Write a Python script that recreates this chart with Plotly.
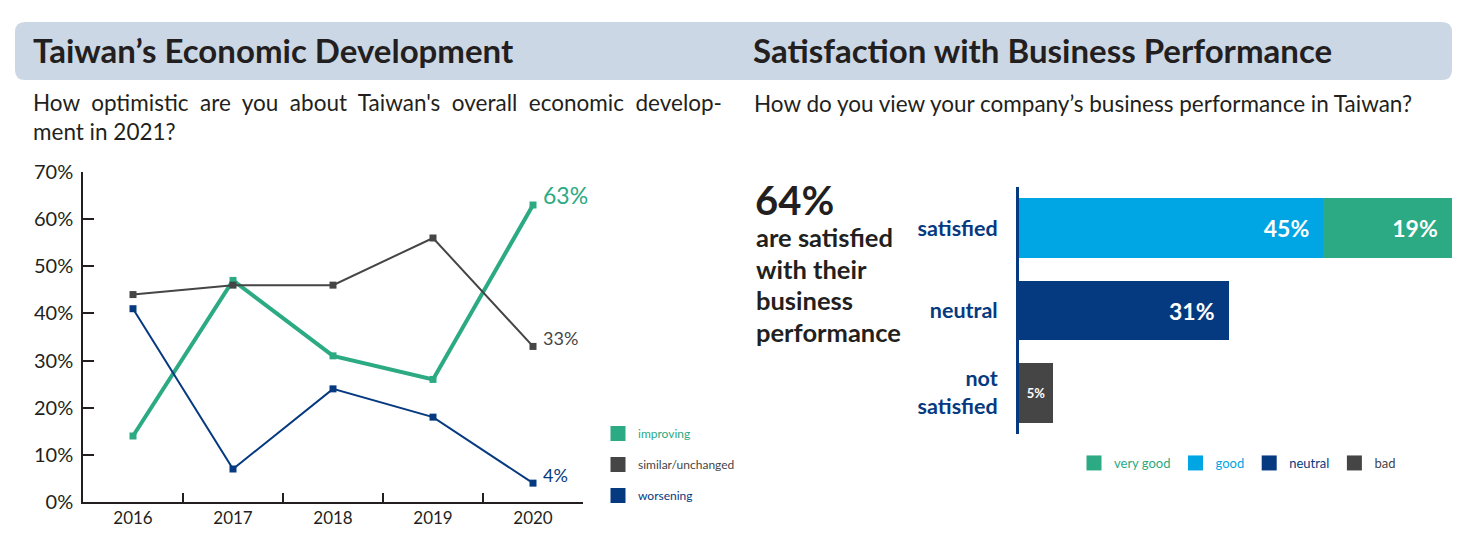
import plotly.graph_objects as go

W, H = 1478, 546
FONT = "Lato"
DARK = "#231F20"
GREEN = "#2BAA83"
GRAY = "#454545"
NAVY = "#063A80"
LBLUE = "#00A5E3"

# ---- data: left chart ----
years = ["2016", "2017", "2018", "2019", "2020"]
improving = [14, 47, 31, 26, 63]
similar = [44, 46, 46, 56, 33]
worsening = [41, 7, 24, 18, 4]
y_ticks = [0, 10, 20, 30, 40, 50, 60, 70]

# ---- data: right chart ----
categories = ["satisfied", "neutral", "not satisfied"]
category_labels = ["satisfied", "neutral", "not<br>satisfied"]
good = [45]
very_good = [19]
neutral = [31]
bad = [5]
satisfied_total = 64


def px(x):
    return x / W


def py(y):
    return 1 - y / H


fig = go.Figure()

# line traces
for name, vals, col, lw in [
    ("improving", improving, GREEN, 4),
    ("similar/unchanged", similar, GRAY, 2),
    ("worsening", worsening, NAVY, 2),
]:
    fig.add_trace(go.Scatter(
        x=years, y=vals, mode="lines+markers", name=name,
        line=dict(color=col, width=lw),
        marker=dict(symbol="square", size=7, color=col),
        showlegend=False, xaxis="x", yaxis="y", hoverinfo="x+y+name",
    ))
    fig.add_trace(go.Scatter(
        x=[None], y=[None], mode="markers",
        name=f"<span style='color:{col}'>{name}</span>",
        marker=dict(symbol="square", size=15, color=col),
        legend="legend", legendgroup=name, showlegend=True,
        xaxis="x", yaxis="y",
    ))

# end labels (category index of last year)
last = len(years) - 1
for vals, col, size in [(improving, GREEN, 23), (similar, GRAY, 18), (worsening, NAVY, 18)]:
    fig.add_annotation(
        x=last, y=vals[-1], xref="x", yref="y", text=f"{vals[-1]}%",
        showarrow=False, xanchor="left", yanchor="middle",
        xshift=8, yshift=10 if vals is improving else 8,
        font=dict(family=FONT, size=size, color=col),
    )

# bar traces (stacked)
NBSP = "\u00a0\u00a0"
bar_text_font = dict(family=FONT, size=23, color="white", weight="bold")
for cat, vals, col, name, rank, tpos, tfont in [
    (categories[0], good, LBLUE, "good", 2, "end", bar_text_font),
    (categories[0], very_good, GREEN, "very good", 1, "end", bar_text_font),
    (categories[1], neutral, NAVY, "neutral", 3, "end", bar_text_font),
    (categories[2], bad, GRAY, "bad", 4, "middle",
     dict(family=FONT, size=13, color="white", weight="bold")),
]:
    fig.add_trace(go.Bar(
        y=[cat], x=vals, orientation="h", name=name,
        marker=dict(color=col, line=dict(width=0)), xaxis="x2", yaxis="y2",
        texttemplate="%{x}%" + (NBSP if tpos == "end" else ""),
        textposition="inside", insidetextanchor=tpos, textfont=tfont,
        showlegend=False,
    ))
    fig.add_trace(go.Scatter(
        x=[None], y=[None], mode="markers", xaxis="x2", yaxis="y2",
        name=f"<span style='color:{col}'>{name}</span>",
        marker=dict(symbol="square", size=15, color=col),
        legend="legend2", legendrank=rank, showlegend=True,
    ))

# title bar
x0, x1, y0, y1, r = px(15), px(1452), py(80), py(22), 10
rx, ry = r / W, r / H
path = (f"M {x0+rx},{y0} L {x1-rx},{y0} Q {x1},{y0} {x1},{y0+ry} L {x1},{y1-ry} "
        f"Q {x1},{y1} {x1-rx},{y1} L {x0+rx},{y1} Q {x0},{y1} {x0},{y1-ry} "
        f"L {x0},{y0+ry} Q {x0},{y0} {x0+rx},{y0} Z")
fig.add_shape(type="path", path=path, xref="paper", yref="paper",
              fillcolor="#CCD7E5", line=dict(width=0), layer="below")


def ann(text, x, y, size, color=DARK, weight="normal", xanchor="left", yanchor="middle", align="left"):
    fig.add_annotation(text=text, x=px(x), y=py(y), xref="paper", yref="paper",
                       showarrow=False, xanchor=xanchor, yanchor=yanchor, align=align,
                       font=dict(family=FONT, size=size, color=color, weight=weight))


SP = " \u00a0"
ann("Taiwan’s Economic Development", 31, 50, 33, weight="bold")
ann("Satisfaction with Business Performance", 751, 50, 33, weight="bold")
ann(SP.join("How optimistic are you about Taiwan's overall economic develop-".split(" "))
    + "<br>ment in 2021?", 31, 117, 22.5)
ann("How do you view your company’s business performance in Taiwan?", 752, 103, 22.5)
ann(f"{satisfied_total}%", 753, 200, 40, weight="bold")
for i, line in enumerate(["are satisfied", "with their", "business", "performance"]):
    ann(line, 754, 237 + i * 31.7, 25.5, weight="bold")

fig.update_layout(
    width=W, height=H, margin=dict(l=0, r=0, t=0, b=0, autoexpand=False),
    paper_bgcolor="white", plot_bgcolor="white",
    font=dict(family=FONT, color=DARK),
    barmode="stack", bargap=0.273,
    xaxis=dict(domain=[px(83), px(583)], type="category", range=[-0.5, 4.5],
               showline=True, linecolor=DARK, linewidth=1.5, showgrid=False,
               ticks="inside", tickson="boundaries", ticklen=9, tickcolor=DARK, tickwidth=1.5,
               tickfont=dict(size=17, color=DARK), zeroline=False),
    yaxis=dict(domain=[py(502), py(172)], range=[0, 70], tickmode="array",
               tickvals=y_ticks, ticktext=[f"{v}%" for v in y_ticks],
               showline=True, linecolor=DARK, linewidth=1.5, showgrid=False, zeroline=False,
               ticks="inside", ticklen=11, tickcolor=DARK, tickwidth=1.5,
               tickfont=dict(size=20, color=DARK), ticklabelstandoff=4),
    xaxis2=dict(domain=[px(1019), px(1452)], range=[0, satisfied_total], visible=False),
    yaxis2=dict(domain=[py(434), py(187)], anchor="x2", type="category",
                categoryorder="array", categoryarray=categories,
                tickvals=categories, ticktext=category_labels,
                range=[2.5, -0.5], showline=True, linecolor=NAVY, linewidth=3,
                showgrid=False, ticks="", ticklabelstandoff=14,
                tickfont=dict(size=21.5, color=NAVY, weight="bold")),
    legend=dict(x=px(598), y=py(419), xanchor="left", yanchor="top",
                orientation="v", font=dict(size=12, family=FONT), tracegroupgap=12,
                bgcolor="rgba(0,0,0,0)", itemsizing="trace"),
    legend2=dict(x=px(1074), y=py(463), xanchor="left", yanchor="middle",
                 orientation="h", font=dict(size=13, family=FONT),
                 bgcolor="rgba(0,0,0,0)", itemsizing="trace"),
    showlegend=True,
)

fig.write_html("out.html")
